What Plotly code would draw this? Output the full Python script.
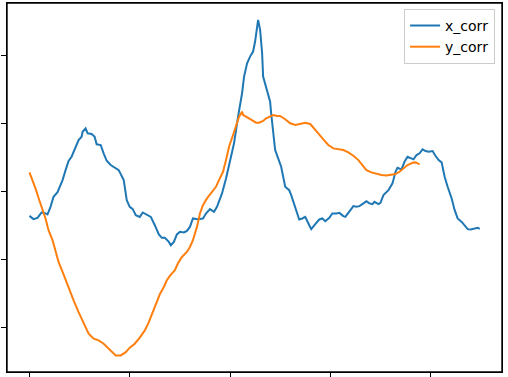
import plotly.graph_objects as go

# x_corr series
x_corr_x = [0, 4, 8, 12, 15, 18, 21, 24, 28, 33, 36, 39, 42, 46, 49, 52, 53, 56, 58, 62,
            65, 67, 71, 74, 77, 81, 89, 94, 97, 100, 103, 106, 110, 113, 117, 121, 125, 129, 132, 135,
            139, 141, 144, 147, 150, 154, 157, 160, 163, 168, 173, 176, 180, 184, 187, 192, 196, 200, 204, 208,
            212, 214, 217, 220, 223, 225, 227, 228, 230, 232, 233, 236, 238, 240, 241, 243, 245, 248, 251, 255,
            259, 261, 265, 269, 272, 275, 279, 281, 285, 289, 292, 295, 299, 302, 306, 309, 313, 315, 318, 323,
            326, 329, 333, 336, 339, 342, 344, 348, 350, 353, 358, 362, 365, 367, 371, 374, 377, 381, 383, 386,
            389, 392, 395, 398, 402, 405, 408, 411, 414, 417, 421, 424, 427, 431, 434, 437, 440, 444, 447, 449]
x_corr_y = [1.641, 1.593, 1.612, 1.691, 1.685, 1.662, 1.774, 1.921, 1.990, 2.166, 2.313, 2.446, 2.509, 2.656, 2.754, 2.803, 2.876, 2.926, 2.853, 2.843,
            2.803, 2.691, 2.681, 2.559, 2.450, 2.387, 2.313, 2.166, 1.872, 1.774, 1.740, 1.651, 1.626, 1.691, 1.662, 1.626, 1.504, 1.368, 1.318, 1.318,
            1.259, 1.210, 1.259, 1.368, 1.406, 1.397, 1.421, 1.479, 1.603, 1.593, 1.603, 1.676, 1.740, 1.700, 1.774, 1.971, 2.191, 2.435, 2.706, 3.097,
            3.441, 3.685, 3.882, 3.979, 4.053, 4.200, 4.372, 4.519, 4.372, 4.029, 3.685, 3.515, 3.441, 3.318, 3.147, 2.901, 2.607, 2.485, 2.362, 2.068,
            2.019, 1.946, 1.774, 1.588, 1.603, 1.626, 1.504, 1.446, 1.519, 1.588, 1.603, 1.563, 1.612, 1.676, 1.676, 1.685, 1.637, 1.626, 1.685, 1.784,
            1.774, 1.784, 1.824, 1.857, 1.824, 1.813, 1.847, 1.813, 1.832, 1.946, 2.019, 2.118, 2.288, 2.347, 2.324, 2.435, 2.509, 2.485, 2.471, 2.534,
            2.559, 2.618, 2.593, 2.582, 2.593, 2.519, 2.460, 2.426, 2.215, 2.068, 1.897, 1.725, 1.603, 1.553, 1.494, 1.446, 1.441, 1.456, 1.465, 1.450]

# y_corr series
y_corr_x = [0, 3, 6, 9, 13, 16, 19, 23, 26, 29, 33, 36, 40, 44, 49, 54, 59, 64, 69, 74,
            78, 81, 86, 91, 96, 100, 105, 110, 115, 119, 123, 127, 130, 134, 137, 140, 145, 148, 152, 157,
            160, 163, 167, 170, 173, 177, 182, 186, 189, 193, 196, 199, 203, 206, 209, 212, 213, 216, 219, 223,
            226, 229, 233, 236, 240, 243, 247, 250, 255, 260, 265, 270, 275, 280, 284, 288, 293, 298, 303, 308,
            313, 318, 323, 328, 332, 336, 341, 346, 351, 356, 361, 365, 369, 373, 377, 382, 385, 387, 389]
y_corr_y = [2.279, 2.166, 2.044, 1.906, 1.750, 1.603, 1.431, 1.284, 1.126, 0.965, 0.818, 0.696, 0.549, 0.401, 0.229, 0.059, -0.088, -0.162, -0.187, -0.235,
            -0.297, -0.334, -0.407, -0.407, -0.359, -0.294, -0.235, -0.147, -0.040, 0.082, 0.229, 0.376, 0.490, 0.597, 0.696, 0.759, 0.843, 0.941, 1.038, 1.112,
            1.185, 1.284, 1.479, 1.676, 1.799, 1.897, 1.994, 2.068, 2.166, 2.288, 2.460, 2.656, 2.828, 2.975, 3.097, 3.171, 3.122, 3.097, 3.074, 3.038,
            3.009, 3.009, 3.034, 3.074, 3.107, 3.122, 3.107, 3.107, 3.059, 3.000, 2.975, 2.990, 3.009, 2.990, 2.926, 2.853, 2.765, 2.681, 2.632, 2.622,
            2.607, 2.574, 2.524, 2.460, 2.387, 2.313, 2.279, 2.254, 2.240, 2.235, 2.240, 2.254, 2.288, 2.338, 2.387, 2.421, 2.426, 2.412, 2.397]

x_ticks = [0, 100, 200, 300, 400]
y_ticks = [0, 1, 2, 3, 4]

fig = go.Figure()
fig.add_trace(go.Scatter(x=x_corr_x, y=x_corr_y, mode="lines", name="x_corr",
                         line=dict(color="#1f77b4", width=2)))
fig.add_trace(go.Scatter(x=y_corr_x, y=y_corr_y, mode="lines", name="y_corr",
                         line=dict(color="#ff7f0e", width=2)))

axis_common = dict(showgrid=False, zeroline=False, showline=True, linecolor="black",
                   linewidth=1.4, mirror=True, ticks="outside", ticklen=5, tickwidth=1.2,
                   tickcolor="black", showticklabels=False)

fig.update_layout(
    width=508, height=377,
    margin=dict(l=7, r=6, t=3, b=5, autoexpand=False),
    paper_bgcolor="white", plot_bgcolor="white",
    font=dict(family="DejaVu Sans", size=14, color="black"),
    xaxis=dict(range=[-22.4, 471.2], tickvals=x_ticks, **axis_common),
    yaxis=dict(range=[-0.651, 4.766], tickvals=y_ticks, **axis_common),
    legend=dict(x=0.986, y=0.984, xanchor="right", yanchor="top",
                bgcolor="rgba(255,255,255,0.8)", bordercolor="#cccccc", borderwidth=1,
                font=dict(family="DejaVu Sans", size=14), itemwidth=30,
                tracegroupgap=0),
    showlegend=True,
)
# axes frame (matplotlib-style box)
fig.add_shape(type="rect", xref="paper", yref="paper", x0=0, x1=1, y0=0, y1=1,
              line=dict(color="black", width=1.4), layer="above")

fig.write_html("out.html", config={"displayModeBar": False},
               post_script="document.body.style.margin='0';document.body.style.overflow='hidden';")
